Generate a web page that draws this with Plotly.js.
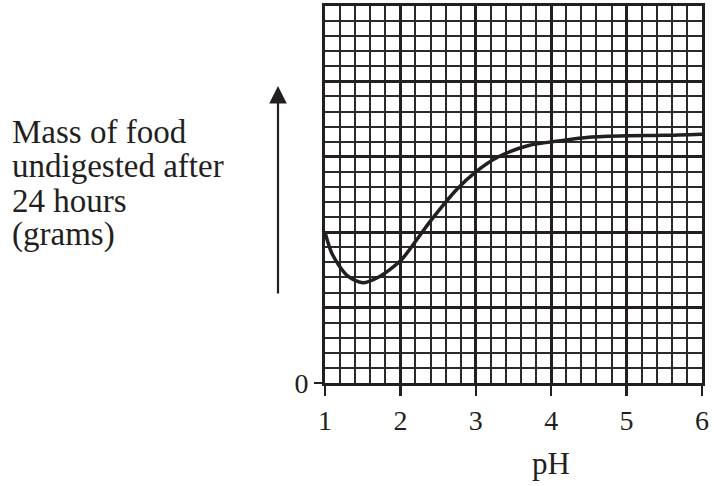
<!DOCTYPE html>
<html>
<head>
<meta charset="utf-8">
<script src="https://cdn.plot.ly/plotly-3.0.1.min.js"></script>
<style>html,body{margin:0;padding:0;background:#fff;}#chart{width:714px;height:486px;}</style>
</head>
<body>
<div id="chart"></div>
<script>
// Data
var pH = [1.0, 1.1, 1.3, 1.5, 1.7, 2.0, 2.26, 2.4, 2.75, 3.0, 3.3, 3.7, 4.1, 4.5, 5.0, 5.5, 6.0];
var massUndigested = [2.0, 1.70, 1.42, 1.33, 1.40, 1.62, 1.96, 2.15, 2.57, 2.80, 3.00, 3.15, 3.21, 3.26, 3.28, 3.285, 3.30];
var xTickVals = [1, 2, 3, 4, 5, 6];
var xTickText = ['1', '2', '3', '4', '5', '6'];
var yTickVals = [0];
var yTickText = ['0'];
var yLabelLines = ['Mass of food', 'undigested after', '24 hours', '(grams)'];
var xLabel = 'pH';

var FONT = 'Liberation Serif, Times New Roman, serif';
var INK = '#231f20';

var plotTop = 6, plotBottom = 383, plotLeft = 325, plotH = 377, plotW = 377;
function py(pix) { return (plotBottom - pix) / plotH; }
function px(pix) { return (pix - plotLeft) / plotW; }

var lineCenters = [132, 166, 201, 234];
var annotations = yLabelLines.map(function (t, i) {
  return {
    text: t, xref: 'paper', yref: 'paper', x: px(10), y: py(lineCenters[i]),
    xanchor: 'left', yanchor: 'middle', showarrow: false,
    font: {family: FONT, size: 33, color: INK}
  };
});
annotations.push({
  text: xLabel, xref: 'x', yref: 'paper', x: 4, y: py(463),
  xanchor: 'center', yanchor: 'middle', showarrow: false,
  font: {family: FONT, size: 31, color: INK}
});
annotations.push({
  text: '', xref: 'paper', yref: 'paper', x: px(278), y: py(86),
  axref: 'pixel', ayref: 'pixel', ax: 0, ay: 209,
  showarrow: true, arrowhead: 2, arrowsize: 1.6, arrowwidth: 2.2, arrowcolor: INK
});

var curve = {
  x: pH, y: massUndigested, type: 'scatter', mode: 'lines',
  line: {color: INK, width: 3.5, shape: 'spline', smoothing: 0.8},
  xaxis: 'x', yaxis: 'y', hoverinfo: 'skip'
};
// invisible carrier for the overlay axis that shows the single "0" tick
var zeroAxisCarrier = {
  x: [pH[0]], y: [yTickVals[0]], type: 'scatter', mode: 'markers',
  marker: {opacity: 0, size: 1}, xaxis: 'x', yaxis: 'y2', hoverinfo: 'skip'
};

var layout = {
  width: 714, height: 486,
  margin: {l: plotLeft, r: 714 - plotLeft - plotW, t: plotTop, b: 486 - plotBottom},
  paper_bgcolor: '#fff', plot_bgcolor: '#fff',
  showlegend: false,
  xaxis: {
    range: [1, 6], tickvals: xTickVals, ticktext: xTickText,
    ticks: 'outside', ticklen: 10, tickwidth: 2.5, tickcolor: INK,
    showgrid: true, gridcolor: INK, gridwidth: 3,
    showline: true, linecolor: INK, linewidth: 3, mirror: true,
    zeroline: false, fixedrange: true,
    tickfont: {family: FONT, size: 28, color: INK},
    minor: {dtick: 0.2, tick0: 1, showgrid: true, gridcolor: '#2a2a2a', gridwidth: 2, ticks: ''}
  },
  yaxis: {
    range: [0, 5], dtick: 1, tick0: 0,
    ticks: '', showticklabels: false,
    showgrid: true, gridcolor: INK, gridwidth: 3,
    showline: true, linecolor: INK, linewidth: 3, mirror: true,
    zeroline: false, fixedrange: true,
    minor: {dtick: 0.2, tick0: 0, showgrid: true, gridcolor: '#2a2a2a', gridwidth: 2, ticks: ''}
  },
  yaxis2: {
    range: [0, 5], overlaying: 'y', side: 'left',
    tickvals: yTickVals, ticktext: yTickText,
    ticks: 'outside', ticklen: 10, tickwidth: 2.5, tickcolor: INK,
    showgrid: false, zeroline: false, showline: false, fixedrange: true,
    tickfont: {family: FONT, size: 28, color: INK}
  },
  annotations: annotations
};

Plotly.newPlot('chart', [curve, zeroAxisCarrier], layout, {staticPlot: true, displayModeBar: false});
</script>
</body>
</html>
